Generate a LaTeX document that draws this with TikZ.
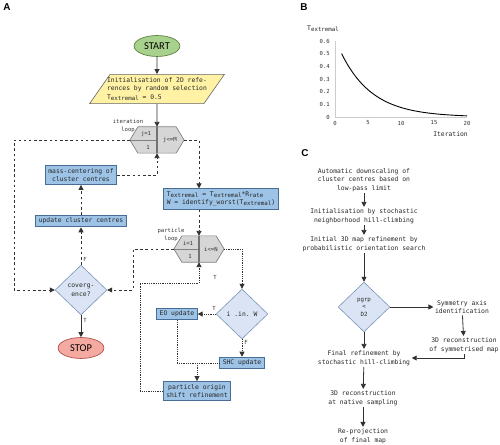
\documentclass[tikz,border=0pt]{standalone}
\usepackage{fontspec}
\setmainfont{Liberation Sans}
\setmonofont{DejaVu Sans Mono}
\newfontfamily\calfont{Carlito}
\usepackage{xcolor}
\usetikzlibrary{calc}
\usetikzlibrary{arrows.meta}
\usetikzlibrary{shapes.geometric}

\definecolor{procfill}{RGB}{157,195,230}
\definecolor{procline}{RGB}{72,110,150}
\definecolor{decfill}{RGB}{218,228,244}
\definecolor{decline}{RGB}{120,148,185}
\definecolor{startfill}{RGB}{169,209,142}
\definecolor{startline}{RGB}{90,130,60}
\definecolor{stopfill}{RGB}{244,170,160}
\definecolor{stopline}{RGB}{180,80,75}
\definecolor{initfill}{RGB}{255,242,165}
\definecolor{hexfill}{RGB}{214,214,214}
\definecolor{hexline}{RGB}{128,128,128}
\definecolor{linegray}{RGB}{50,50,50}

\newcommand{\Tx}{T\raisebox{-0.8pt}{\fontsize{5.8}{6}\selectfont extremal}}
\newcommand{\Rr}{R\raisebox{-0.8pt}{\fontsize{5.8}{6}\selectfont rate}}

\tikzset{
  txt/.style={font=\ttfamily\fontsize{6.4}{8.6}\selectfont, text=black!85},
  small/.style={font=\ttfamily\fontsize{5.6}{7.6}\selectfont, text=black!80},
  procbox/.style={txt, rectangle, draw=procline, fill=procfill, line width=0.8pt,
    inner xsep=3pt, inner ysep=2.8pt, align=center},
  decbox/.style={txt, diamond, draw=decline, fill=decfill, line width=0.6pt,
    minimum width=52pt, minimum height=50pt, inner sep=0pt, align=center},
  termbox/.style={ellipse, font=\calfont\fontsize{10.5}{12}\selectfont, line width=0.7pt,
    minimum width=46pt, minimum height=21pt, inner sep=0pt},
  hexbox/.style={rectangle, minimum width=54pt, minimum height=26pt, inner sep=0pt},
  ctext/.style={txt, align=center, inner sep=1.5pt},
  dashline/.style={draw=linegray, line width=0.8pt, dash pattern=on 2.6pt off 2.6pt},
  dotline/.style={draw=linegray, line width=0.8pt, dash pattern=on 0.9pt off 0.9pt},
  solidline/.style={draw=linegray, line width=0.8pt},
  panel/.style={font=\bfseries\fontsize{10}{12}\selectfont}
}

\begin{document}
\begin{tikzpicture}[x=1bp, y=-1bp, >={Triangle[length=5pt,width=5pt]}]
        \useasboundingbox (0,0) rectangle (500,445);

        % A
        \node[panel] (labA) at (7,7) {A};
        \node[termbox, fill=startfill, draw=startline] (start) at (157,46) {START};
        \node[txt, trapezium, trapezium left angle=55, trapezium right angle=125,
          draw=black!60, fill=initfill, line width=0.6pt, align=left,
          inner xsep=-3pt, inner ysep=3.2pt] (init) at (157,89)
          {Initialisation of 2D refe-\\rences by random selection\\\Tx{} = 0.5};
        \node[hexbox] (itloop) at (157,140) {};
        \node[hexbox, minimum width=50pt] (ptloop) at (199,249) {};
        \foreach \h in {itloop,ptloop}
        {
          \draw[draw=hexline, fill=hexfill, line width=0.7pt] (\h.west) -- ([xshift=8pt]\h.north west)
            -- ([xshift=-8pt]\h.north east) -- (\h.east) -- ([xshift=-8pt]\h.south east)
            -- ([xshift=8pt]\h.south west) -- cycle;
          \draw[draw=hexline, line width=0.5pt] (\h.west) -- (\h.center);
          \draw[draw=black!55, line width=1.3pt] (\h.north) -- (\h.south);
        }
        \node[small] (itj) at ([xshift=-11pt,yshift=6pt]itloop.center) {j=1};
        \node[small] (itone) at ([xshift=-9pt,yshift=-7pt]itloop.center) {1};
        \node[small] (itM) at ([xshift=13pt]itloop.center) {j<=M};
        \node[small] (pti) at ([xshift=-11pt,yshift=6pt]ptloop.center) {i=1};
        \node[small] (ptone) at ([xshift=-9pt,yshift=-7pt]ptloop.center) {1};
        \node[small] (ptN) at ([xshift=12pt]ptloop.center) {i<=N};
        \node[small, align=center] (itlab) at (128,126) {iteration\\loop};
        \node[small, align=center] (ptlab) at (171,235) {particle\\loop};

        \node[procbox, align=left] (formula) at (221,199)
          {\Tx{} = \Tx*\Rr\\W = identify\_worst(\Tx)};
        \node[decbox] (inw) at (242,314) {i .in. W};
        \node[procbox] (eoupd) at (177,314) {EO update};
        \node[procbox] (shcupd) at (242,363) {SHC update};
        \node[procbox] (shift) at (197,391) {particle origin\\shift refinement};
        \node[decbox] (conv) at (81,290) {coverg-\\ence?};
        \node[termbox, fill=stopfill, draw=stopline] (stop) at (81,348) {STOP};
        \node[procbox] (update) at (81,221) {update cluster centres};
        \node[procbox] (masscen) at (81,175) {mass-centering of\\cluster centres};

        \node[small] (fconv) at (85,259) {F};
        \node[small] (tconv) at (85,320) {T};
        \node[small] (tpt) at (215,277) {T};
        \node[small] (tinw) at (214,308) {T};
        \node[small] (finw) at (246,342) {F};

        \coordinate (itexit) at (14,140);
        \coordinate (ptexit) at (133,249);
        \coordinate (ptback) at (140,283);

        \draw[solidline,->] (start) -- (init);
        \draw[solidline,->] (init.south) -- (itloop.north);
        \draw[dashline,->] (itloop.east) -| (formula.north -| ptloop.north);
        \draw[dashline,->] (formula.south -| ptloop.north) -- (ptloop.north);
        \draw[dotline,->] (ptloop.east) -| (inw.north);
        \draw[dotline,->] (inw.west) -- (eoupd.east);
        \draw[dotline,->] (inw.south) -- (shcupd.north);
        \draw[dotline] (eoupd.south) |- (shcupd.west);
        \draw[dotline,->] (shcupd.west -| shift.north) -- (shift.north);
        \draw[dotline,->] (shift.west) -| (ptback) -| (ptloop.south);
        \draw[dashline,->] (ptloop.west) -- (ptexit) |- (conv.east);
        \draw[dashline,->] (itloop.west) -- (itexit) |- (conv.west);
        \draw[dashline,->] (conv) -- (update);
        \draw[dashline,->] (update) -- (masscen);
        \draw[dashline,->] (masscen.east) -| (itloop.south);
        \draw[solidline,->] (conv) -- (stop);

        % B
        \node[panel] (labB) at (304,7) {B};
        \draw[black!20, line width=0.6pt] (335,41) -- (335,117) -- (467,117);
        \foreach \v/\t in {0/0,1/0.1,2/0.2,3/0.3,4/0.4,5/0.5,6/0.6}
          \node[small, anchor=east, inner sep=1pt] (yt\v) at (331,{117-12.67*\v}) {\t};
        \foreach \k in {0,5,10,15,20}
          \node[small, inner sep=1pt] (xt\k) at ({335+6.6*\k},123) {\k};
        \node[txt, anchor=west, inner sep=0pt] (ylab) at (307,29) {\Tx};
        \node[txt, anchor=east, inner sep=0pt] (xlab) at (468,134) {Iteration};
        \draw[black, line width=0.9pt] plot[domain=1:20, samples=60, smooth]
          ({335+6.6*\x},{117-63.35*0.81^(\x-1)});

        % C
        \node[panel] (labC) at (305,153) {C};
        \node[ctext] (auto) at (364,180) {Automatic downscaling of\\cluster centres based on\\low-pass limit};
        \node[ctext] (hcinit) at (364,216) {Initialisation by stochastic\\neighborhood hill-climbing};
        \node[ctext] (orient) at (364,244) {Initial 3D map refinement by\\probabilistic orientation search};
        \node[decbox, font=\ttfamily\fontsize{5.8}{7.6}\selectfont] (pgrp) at (364,307) {pgrp\\<\\D2};
        \node[ctext] (symaxis) at (462,307) {Symmetry axis\\identification};
        \node[ctext] (symrec) at (464,345) {3D reconstruction\\of symmetrised map};
        \node[ctext] (finref) at (364,358) {Final refinement by\\stochastic hill-climbing};
        \node[ctext] (native) at (363,398) {3D reconstruction\\at native sampling};
        \node[ctext] (reproj) at (363,436) {Re-projection\\of final map};

        \draw[solidline,->] (auto) -- (hcinit);
        \draw[solidline,->] (hcinit) -- (orient);
        \draw[solidline,->] (orient.south -| pgrp.north) -- (pgrp.north);
        \draw[solidline,->] (pgrp.east) -- (symaxis.west |- pgrp.east);
        \draw[solidline,->] (symaxis) -- (symrec);
        \draw[solidline,->] (symrec.south) |- (finref.east);
        \draw[solidline,->] (pgrp.south) -- (finref.north -| pgrp.south);
        \draw[solidline,->] (finref) -- (native);
        \draw[solidline,->] (native) -- (reproj);
\end{tikzpicture}
\end{document}
